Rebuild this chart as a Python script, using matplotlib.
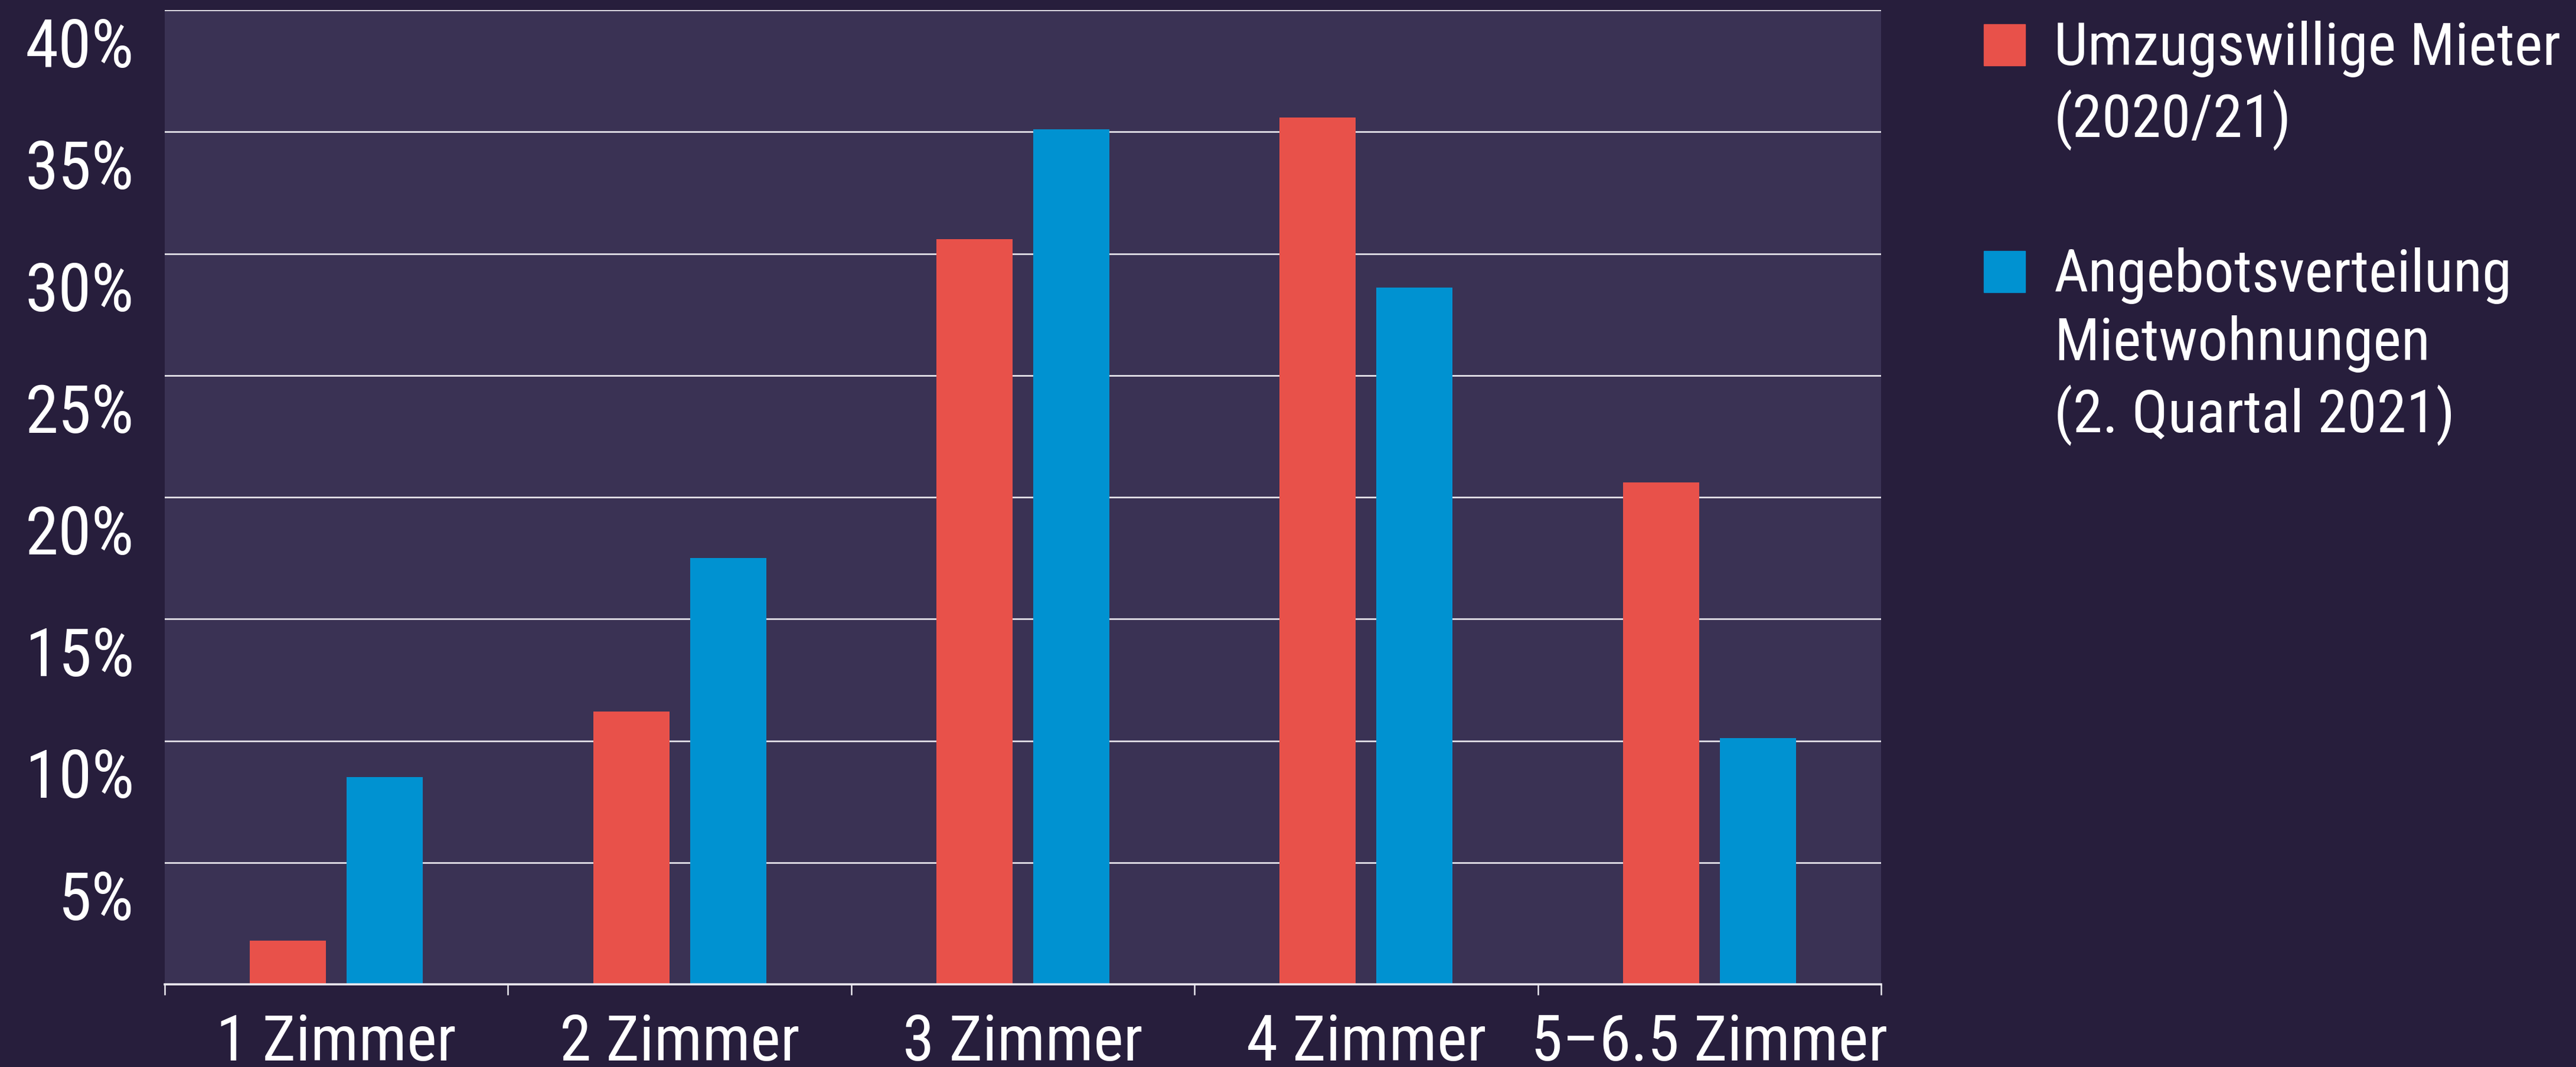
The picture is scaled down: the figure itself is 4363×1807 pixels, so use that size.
import matplotlib
matplotlib.use("Agg")
import matplotlib.pyplot as plt
import matplotlib.transforms as mtransforms
from matplotlib import font_manager as fm
from matplotlib.patches import Rectangle
import numpy as np

# --- data -------------------------------------------------------------
categories = ["1 Zimmer", "2 Zimmer", "3 Zimmer", "4 Zimmer", "5–6.5 Zimmer"]
umzugswillige = [1.8, 11.2, 30.6, 35.6, 20.6]        # % share, movers (2020/21)
angebot = [8.5, 17.5, 35.1, 28.6, 10.1]              # % share, listings (Q2 2021)
series_labels = ["Umzugswillige Mieter\n(2020/21)",
                 "Angebotsverteilung\nMietwohnungen\n(2. Quartal 2021)"]
y_ticks = [5, 10, 15, 20, 25, 30, 35, 40]
y_tick_labels = [f"{v}%" for v in y_ticks]

# --- style ------------------------------------------------------------
FIG_BG = "#271E3C"
AX_BG = "#3A3254"
RED = "#E8514A"
BLUE = "#0092D1"
GRID = "#ECEAF0"

# narrow sans-serif face, first one that is installed
_installed = {f.name for f in fm.fontManager.ttflist}
_narrow = ["Roboto Condensed", "Archivo Narrow", "Pragati Narrow",
           "IBM Plex Sans Condensed", "Open Sans Condensed"]
FONT = [n for n in _narrow if n in _installed][:1] + ["DejaVu Sans"]
FS = 78
FS_LEG = 73

plt.rcParams["font.family"] = FONT

W, H, DPI = 4363, 1807, 100
fig = plt.figure(figsize=(W / DPI, H / DPI), dpi=DPI, facecolor=FIG_BG)
ax = fig.add_axes([279 / W, 1 - 1667 / H, (3186 - 279) / W, (1667 - 17) / H])
ax.set_facecolor(AX_BG)

x = np.arange(len(categories))
bw = 0.222
off = 0.141
ax.bar(x - off, umzugswillige, width=bw, color=RED, zorder=3)
ax.bar(x + off, angebot, width=bw, color=BLUE, zorder=3)

ax.set_xlim(-0.5, len(categories) - 0.5)
ax.set_ylim(0, 40)

# horizontal grid lines
ax.set_yticks(y_ticks)
ax.set_yticklabels([])
ax.tick_params(axis="y", length=0)
ax.yaxis.grid(True, color=GRID, linewidth=1.9, zorder=1)
ax.set_axisbelow(True)

# category boundaries as tick marks
ax.set_xticks(np.arange(len(categories) + 1) - 0.5)
ax.set_xticklabels([])
ax.tick_params(axis="x", length=13, width=1.8, color=GRID, direction="out")

for s in ["left", "right", "top"]:
    ax.spines[s].set_visible(False)
ax.spines["bottom"].set_color(GRID)
ax.spines["bottom"].set_linewidth(2.6)
ax.spines["bottom"].set_zorder(4)

# y labels hang just below their grid line, right-aligned left of the plot
ylab_tr = mtransforms.blended_transform_factory(ax.transAxes, ax.transData) + \
    mtransforms.ScaledTranslation(-52 / DPI, -12 / DPI, fig.dpi_scale_trans)
for v, lab in zip(y_ticks, y_tick_labels):
    ax.text(0, v, lab, transform=ylab_tr, ha="right", va="top",
            color="white", fontsize=FS + 4)

# category labels
xlab_tr = mtransforms.blended_transform_factory(ax.transData, ax.transAxes) + \
    mtransforms.ScaledTranslation(0, -129 / DPI, fig.dpi_scale_trans)
for xi, lab in zip(x, categories):
    ax.text(xi, 0, lab, transform=xlab_tr, ha="center", va="baseline",
            color="white", fontsize=FS)

# legend
leg_items = [(RED, series_labels[0], 111), (BLUE, series_labels[1], 495)]
for col, lab, base in leg_items:
    fig.patches.append(Rectangle((3360 / W, 1 - base / H), 70 / W, 70 / H,
                                 transform=fig.transFigure, color=col,
                                 figure=fig))
    fig.text(3479 / W, 1 - (base - 76) / H, lab, ha="left", va="top",
             color="white", fontsize=FS_LEG, linespacing=1.25)

fig.savefig("out.png", dpi=DPI, facecolor=FIG_BG)
